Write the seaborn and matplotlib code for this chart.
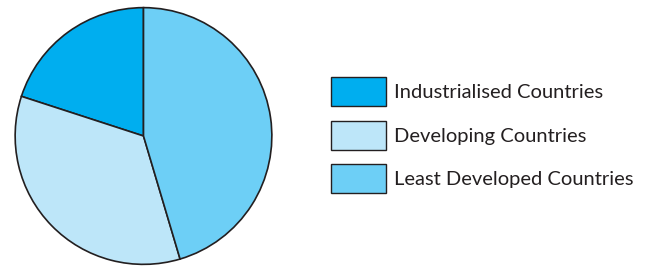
import matplotlib
matplotlib.use("Agg")
import matplotlib.pyplot as plt
import matplotlib.patches as mpatches
import seaborn as sns

# --- data ---
categories = ["Industrialised Countries", "Developing Countries", "Least Developed Countries"]
shares = [20, 34.6, 45.4]
colours = ["#00aeef", "#bde6f9", "#6dcff6"]

sns.set_theme(style="white")
plt.rcParams['font.family'] = ['Lato', 'DejaVu Sans']

palette = sns.color_palette(colours)

fig = plt.figure(figsize=(6.53, 2.66), dpi=100)
ax = fig.add_axes([14.5 / 653, 1 / 266, 258 / 653, 258 / 266])

# pie, drawn counter-clockwise from the top
ax.pie(shares, colors=palette, startangle=90, counterclock=True,
       wedgeprops=dict(edgecolor="#231f20", linewidth=1.2))
ax.set_xlim(-1.005, 1.005)
ax.set_ylim(-1.005, 1.005)
ax.set_aspect("equal")

handles = [mpatches.Patch(facecolor=c, edgecolor="#231f20", linewidth=1.0) for c in palette]
fs = 14.5
fig.legend(handles, categories, loc="upper left", bbox_to_anchor=(331 / 653, 1 - 77 / 266),
           frameon=False, fontsize=fs, handlelength=2.75, handleheight=1.85,
           handletextpad=0.4, labelspacing=0.72, borderaxespad=0, borderpad=0,
           labelcolor="#231f20")

fig.savefig("out.png", dpi=100)
